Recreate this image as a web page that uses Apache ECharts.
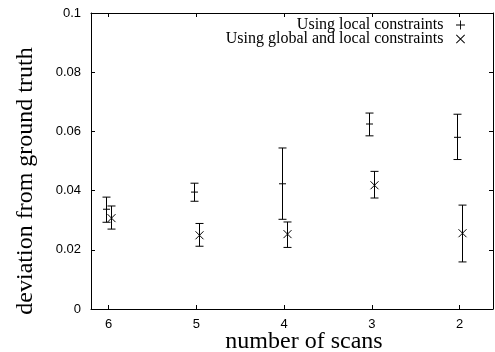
<!DOCTYPE html>
<html>
<head>
<meta charset="utf-8">
<script src="https://cdn.jsdelivr.net/npm/echarts@6/dist/echarts.min.js"></script>
<style>
html,body{margin:0;padding:0;background:#fff;}
#chart{width:495px;height:352px;}
</style>
</head>
<body>
<div id="chart"></div>
<script>
// number of scans (x, drawn right-to-left)
var scans = [6, 5, 4, 3, 2];
var xTicks = [6, 5, 4, 3, 2];
var yTicks = [0, 0.02, 0.04, 0.06, 0.08, 0.1];

// Using local constraints : mean, lower, upper
var localMean = [0.0337, 0.0395, 0.0423, 0.0625, 0.0580];
var localLow  = [0.0293, 0.0364, 0.0303, 0.0585, 0.0505];
var localHigh = [0.0378, 0.0425, 0.0544, 0.0662, 0.0658];

// Using global and local constraints
var globalMean = [0.0307, 0.0249, 0.0253, 0.0418, 0.0256];
var globalLow  = [0.0270, 0.0212, 0.0208, 0.0375, 0.0159];
var globalHigh = [0.0348, 0.0289, 0.0294, 0.0465, 0.0351];

function rows(mean, low, high){
	var out = [];
	for(var i=0;i<scans.length;i++){
		out.push([scans[i], mean[i], low[i], high[i]]);
	}
	return out;
}

var lineStyle = {stroke:'#000', lineWidth:1};

// error bar + point marker
function makeRender(dx, mark){
	return function(params, api){
		var p = api.coord([api.value(0), api.value(1)]);
		var lo = api.coord([api.value(0), api.value(2)]);
		var hi = api.coord([api.value(0), api.value(3)]);
		var x = Math.round(p[0] + dx) + 0.5;
		var cap = 4;
		var ch = [
			{type:'line', shape:{x1:x, y1:lo[1], x2:x, y2:hi[1]}, style:lineStyle},
			{type:'line', shape:{x1:x-cap, y1:lo[1], x2:x+cap, y2:lo[1]}, style:lineStyle},
			{type:'line', shape:{x1:x-cap, y1:hi[1], x2:x+cap, y2:hi[1]}, style:lineStyle}
		];
		if(mark=='plus'){
			ch.push({type:'line', shape:{x1:x-3.5, y1:p[1], x2:x+3.5, y2:p[1]}, style:lineStyle});
		}else{
			var s = 4;
			ch.push({type:'line', shape:{x1:x-s, y1:p[1]-s, x2:x+s, y2:p[1]+s}, style:lineStyle});
			ch.push({type:'line', shape:{x1:x-s, y1:p[1]+s, x2:x+s, y2:p[1]-s}, style:lineStyle});
		}
		return {type:'group', children:ch};
	};
}

var plusIcon = 'path://M0,4.5h10v1h-10z M4.5,0h1v10h-1z';
var crossIcon = 'path://M0,0.7L0.7,0L10,9.3L9.3,10Z M9.3,0L10,0.7L0.7,10L0,9.3Z';

var tickFont = {fontFamily:'Liberation Sans', fontSize:13, color:'#000'};
var axLine = {show:true, onZero:false, lineStyle:{color:'#000', width:1}};

var option = {
	animation:false,
	backgroundColor:'#fff',
	grid:{left:91, right:2, top:13, bottom:43, outerBoundsMode:'none', containLabel:false},
	legend:{
		orient:'vertical',
		right:25, top:12,
		align:'right',
		itemWidth:24, itemHeight:9, itemGap:-2,
		textStyle:{fontFamily:'Liberation Serif', fontSize:16, color:'#000', lineHeight:14},
		data:[
			{name:'Using local constraints', icon:plusIcon},
			{name:'Using global and local constraints', icon:crossIcon}
		]
	},
	xAxis:[{
		type:'value', inverse:true, min:1.62, max:6.2,
		axisLine:axLine,
		axisTick:{show:true, inside:true, length:4, customValues:xTicks, lineStyle:{color:'#000'}},
		axisLabel:Object.assign({margin:9, customValues:xTicks}, tickFont),
		splitLine:{show:false},
		name:'number of scans', nameLocation:'middle', nameGap:21, nameMoveOverlap:false,
		nameTextStyle:{fontFamily:'Liberation Serif', fontSize:24, color:'#000', padding:[0,0,0,24]}
	},{
		type:'value', position:'top', inverse:true, min:1.62, max:6.2,
		axisLine:axLine,
		axisTick:{show:true, inside:true, length:4, customValues:xTicks, lineStyle:{color:'#000'}},
		axisLabel:{show:false},
		splitLine:{show:false}
	}],
	yAxis:[{
		type:'value', min:0, max:0.1, interval:0.02,
		axisLine:axLine,
		axisTick:{show:true, inside:true, length:4, lineStyle:{color:'#000'}},
		axisLabel:Object.assign({margin:10}, tickFont),
		splitLine:{show:false},
		name:'deviation from ground truth', nameLocation:'middle', nameGap:53,
		nameTextStyle:{fontFamily:'Liberation Serif', fontSize:24, color:'#000', padding:[0,40,0,0]}
	},{
		type:'value', position:'right', min:0, max:0.1, interval:0.02,
		axisLine:axLine,
		axisTick:{show:true, inside:true, length:4, lineStyle:{color:'#000'}},
		axisLabel:{show:false},
		splitLine:{show:false}
	}],
	series:[{
		name:'Using local constraints',
		type:'custom',
		itemStyle:{color:'#000'},
		renderItem:makeRender(-2.5, 'plus'),
		data:rows(localMean, localLow, localHigh)
	},{
		name:'Using global and local constraints',
		type:'custom',
		itemStyle:{color:'#000'},
		renderItem:makeRender(2.5, 'cross'),
		data:rows(globalMean, globalLow, globalHigh)
	}]
};

var myChart = echarts.init(document.getElementById('chart'));
myChart.setOption(option);
</script>
</body>
</html>
